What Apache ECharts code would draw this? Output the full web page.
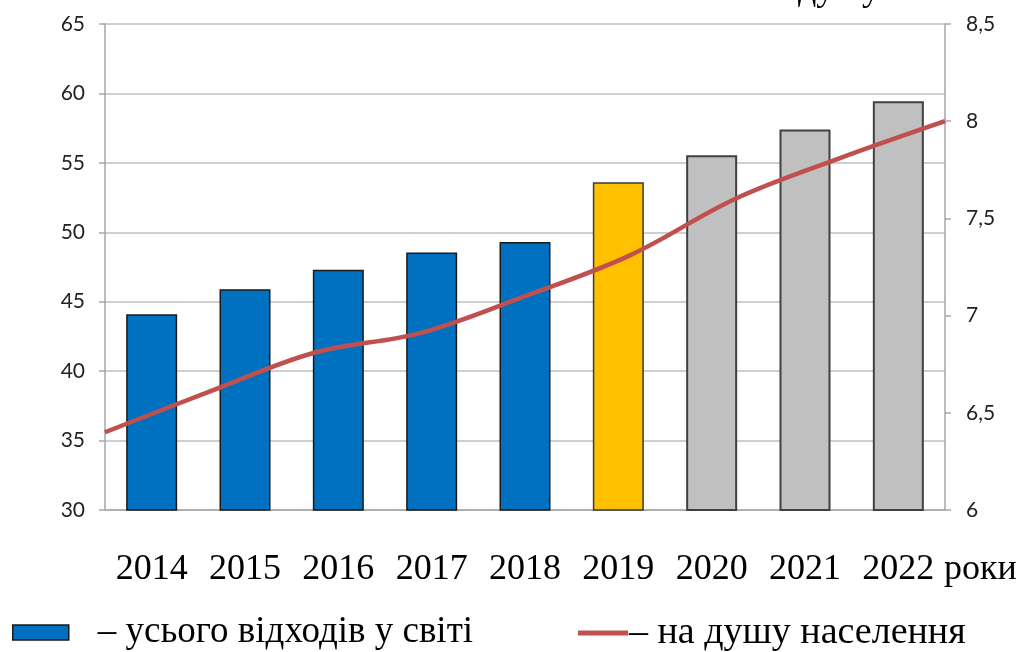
<!DOCTYPE html>
<html>
<head>
<meta charset="utf-8">
<script src="https://cdn.jsdelivr.net/npm/echarts@6/dist/echarts.min.js"></script>
<style>html,body{margin:0;padding:0;background:#fff;}#c{width:1022px;height:652px;}</style>
</head>
<body>
<div id="c"></div>
<script>
// ---- data ----
const years = ['2014','2015','2016','2017','2018','2019','2020','2021','2022'];
const totalWaste = [44.1, 45.9, 47.3, 48.55, 49.3, 53.6, 55.55, 57.4, 59.43];
const perCapita = [6.40, 6.61, 6.81, 6.91, 7.10, 7.31, 7.60, 7.81, 8.0];
const leftTicks = {min: 30, max: 65, step: 5};
const rightTicks = {min: 6, max: 8.5, step: 0.5};
const nameTotal = 'усього відходів у світі';
const namePerCapita = 'на душу населення';
const xUnit = 'роки';
const topText = 'душу';

// ---- styles ----
const BLUE = '#0070C0', YELLOW = '#FFC000', GRAY = '#C0C0C0', RED = '#C0504D';
function barFill(i){ return i < 5 ? BLUE : (i === 5 ? YELLOW : GRAY); }
function barBorder(i){ return i < 5 ? '#1a1a1a' : (i === 5 ? '#3a3a3a' : '#404040'); }
const serif = '"Liberation Serif", "DejaVu Serif", serif';
const sans = 'Lato, "Noto Sans", sans-serif';

const chart = echarts.init(document.getElementById('c'), null, {renderer: 'canvas'});
chart.setOption({
  animation: false,
  backgroundColor: '#ffffff',
  grid: {left: 105, right: 77, top: 24, bottom: 142, containLabel: false},
  legend: [
    {
      left: 7, top: 609, itemWidth: 56, itemHeight: 15, itemGap: 0,
      icon: 'rect',
      data: [{name: nameTotal, itemStyle: {color: BLUE, borderColor: '#1a1a1a', borderWidth: 1.5}}],
      formatter: '– {name}',
      textStyle: {fontFamily: serif, fontSize: 37, color: '#000', padding: [24, 0, 0, 24]}
    },
    {
      left: 573, top: 609, itemWidth: 50, itemHeight: 5, itemGap: 0,
      icon: 'rect',
      data: [{name: namePerCapita, itemStyle: {color: RED}}],
      formatter: '– {name}',
      textStyle: {fontFamily: serif, fontSize: 38, color: '#000', padding: [24, 0, 0, -4]}
    }
  ],
  xAxis: [
    {
      type: 'category', data: years, boundaryGap: true,
      axisLine: {lineStyle: {color: '#A6A6A6', width: 1.5}},
      axisTick: {show: false},
      axisLabel: {fontFamily: serif, fontSize: 36, color: '#000', margin: 42, interval: 0},
      name: xUnit, nameLocation: 'end', nameGap: -1,
      nameTextStyle: {fontFamily: serif, fontSize: 36, color: '#000', verticalAlign: 'top', align: 'left', padding: [42, 0, 0, 0]}
    },
    {
      type: 'category', data: years, boundaryGap: false, show: false
    }
  ],
  yAxis: [
    {
      type: 'value', position: 'left', min: leftTicks.min, max: leftTicks.max, interval: leftTicks.step,
      axisLine: {show: true, lineStyle: {color: '#A6A6A6', width: 1.5}},
      axisTick: {show: true, length: 6, lineStyle: {color: '#A6A6A6', width: 1.5}},
      splitLine: {show: true, lineStyle: {color: '#BFBFBF', width: 1.5}},
      axisLabel: {fontFamily: sans, fontSize: 21, color: '#222', margin: 20}
    },
    {
      type: 'value', position: 'right', min: rightTicks.min, max: rightTicks.max, interval: rightTicks.step,
      axisLine: {show: true, lineStyle: {color: '#A6A6A6', width: 1.5}},
      axisTick: {show: true, length: 6, lineStyle: {color: '#A6A6A6', width: 1.5}},
      splitLine: {show: false},
      axisLabel: {fontFamily: sans, fontSize: 21, color: '#222', margin: 21,
        formatter: v => String(v).replace('.', ',')}
    }
  ],
  graphic: [
    {type: 'text', right: 142, top: -27, z: 10,
     style: {text: topText, font: '36px ' + serif, fill: '#000'}}
  ],
  series: [
    {
      name: nameTotal, type: 'bar', xAxisIndex: 0, yAxisIndex: 0,
      barWidth: 51,
      data: totalWaste.map((v, i) => ({
        value: v,
        itemStyle: {color: barFill(i), borderColor: barBorder(i), borderWidth: i >= 6 ? 2 : 1.5}
      })),
      itemStyle: {color: BLUE, borderColor: '#1a1a1a', borderWidth: 1.5}
    },
    {
      name: namePerCapita, type: 'line', xAxisIndex: 1, yAxisIndex: 1,
      data: perCapita, smooth: 0.35, symbol: 'none', z: 5,
      lineStyle: {color: RED, width: 4.5},
      itemStyle: {color: RED}
    }
  ]
});
</script>
</body>
</html>
